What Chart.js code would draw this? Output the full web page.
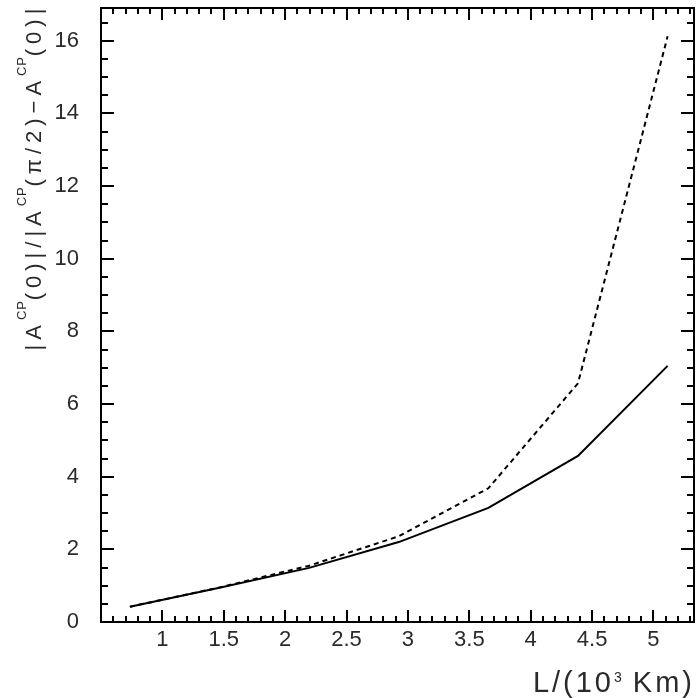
<!DOCTYPE html>
<html><head><meta charset="utf-8">
<script src="https://cdn.jsdelivr.net/npm/chart.js@4.4.1/dist/chart.umd.min.js"></script>
<style>html,body{margin:0;padding:0;background:#fff;}#wrap{width:696px;height:698px;}</style>
</head><body><div id="wrap"><canvas id="c" width="696" height="698"></canvas></div>
<script>
// ---- data ----
const distance = [0.735, 1.465, 2.195, 2.925, 3.655, 4.385, 5.115];      // L / (10^3 km)
const ratioSolid = [0.42, 0.94, 1.49, 2.20, 3.14, 4.57, 7.05];
const ratioDashed = [0.42, 0.95, 1.55, 2.36, 3.68, 6.57, 16.12];
const xTickLabels = [1, 1.5, 2, 2.5, 3, 3.5, 4, 4.5, 5];
const yTickLabels = [0, 2, 4, 6, 8, 10, 12, 14, 16];
const xTitleParts = [["L/(10", 0], ["3", 1], [" Km)", 0]];
const yTitleParts = [["|A", 0], ["CP", 1], ["(0)|/|A", 0], ["CP", 1], ["(\u03C0/2)\u2212A", 0], ["CP", 1], ["(0)|", 0]];

const FONT = "'Liberation Sans', Arial, Helvetica, sans-serif";
const TXT = '#2a2a2a';

function partWidths(ctx, parts, size, supSize, spacing, supSpacing) {
  return parts.map(([t, sup]) => {
    ctx.font = (sup ? supSize : size) + 'px ' + FONT;
    ctx.letterSpacing = (sup ? supSpacing : spacing) + 'px';
    return ctx.measureText(t).width;
  });
}

const framePlugin = {
  id: 'frameTicks',
  afterDatasetsDraw(chart) {
    const ctx = chart.ctx, a = chart.chartArea;
    const xs = chart.scales.x, ys = chart.scales.y;
    ctx.save();
    ctx.strokeStyle = '#000';
    ctx.lineWidth = 2;
    ctx.lineCap = 'butt';
    ctx.beginPath();
    for (let i = 5; i * 0.1 <= xs.max + 1e-9; i++) {
      const v = i / 10;
      const px = Math.round(xs.getPixelForValue(v));
      if (px <= a.left + 1 || px >= a.right - 1) continue;
      const len = (i % 5 === 0) ? 12 : 6;
      ctx.moveTo(px, a.bottom); ctx.lineTo(px, a.bottom - len);
      ctx.moveTo(px, a.top); ctx.lineTo(px, a.top + len);
    }
    for (let i = 0; i * 0.5 <= ys.max + 1e-9; i++) {
      const v = i * 0.5;
      const py = Math.round(ys.getPixelForValue(v));
      if (py <= a.top + 1 || py >= a.bottom - 1) continue;
      const len = (i % 4 === 0) ? 13 : 7;
      ctx.moveTo(a.left, py); ctx.lineTo(a.left + len, py);
      ctx.moveTo(a.right, py); ctx.lineTo(a.right - len, py);
    }
    ctx.stroke();
    ctx.strokeRect(a.left, a.top, a.right - a.left, a.bottom - a.top);
    ctx.restore();
  },
  afterDraw(chart) {
    const ctx = chart.ctx, a = chart.chartArea;
    ctx.save();
    ctx.fillStyle = TXT;
    ctx.textBaseline = 'alphabetic';
    ctx.textAlign = 'left';
    {
      const size = 29, supSize = 14, raise = 10, sp = 3, ssp = 0;
      const w = partWidths(ctx, xTitleParts, size, supSize, sp, ssp);
      const total = w.reduce((s, v) => s + v, 0);
      let x = a.right + 1 - total;
      const y = 692;
      xTitleParts.forEach(([t, sup], k) => {
        ctx.font = (sup ? supSize : size) + 'px ' + FONT;
        ctx.letterSpacing = (sup ? ssp : sp) + 'px';
        ctx.fillText(t, x, sup ? y - raise : y);
        x += w[k];
      });
    }
    {
      const size = 22, supSize = 13, raise = 15, sp = 5, ssp = 0.8;
      const w = partWidths(ctx, yTitleParts, size, supSize, sp, ssp);
      const total = w.reduce((s, v) => s + v, 0);
      ctx.translate(41, 177);
      ctx.rotate(-Math.PI / 2);
      let x = -total / 2;
      yTitleParts.forEach(([t, sup], k) => {
        ctx.font = (sup ? supSize : size) + 'px ' + FONT;
        ctx.letterSpacing = (sup ? ssp : sp) + 'px';
        ctx.fillText(t, x, sup ? -raise : 0);
        x += w[k];
      });
    }
    ctx.restore();
  }
};

new Chart(document.getElementById('c'), {
  type: 'line',
  data: {
    datasets: [
      {
        label: 'solid',
        data: distance.map((x, i) => ({ x, y: ratioSolid[i] })),
        borderColor: '#000', borderWidth: 2, pointRadius: 0, tension: 0, fill: false
      },
      {
        label: 'dashed',
        data: distance.map((x, i) => ({ x, y: ratioDashed[i] })),
        borderColor: '#000', borderWidth: 2, borderDash: [5, 4], pointRadius: 0, tension: 0, fill: false
      }
    ]
  },
  options: {
    responsive: false,
    devicePixelRatio: 1,
    animation: false,
    layout: { padding: { left: 0, right: 2, top: 8, bottom: 0 } },
    plugins: { legend: { display: false }, tooltip: { enabled: false } },
    scales: {
      x: {
        type: 'linear', min: 0.5, max: 5.33,
        afterFit: s => { s.height = 76; s.paddingLeft = 0; s.paddingRight = 0; },
        afterBuildTicks: s => { s.ticks = xTickLabels.map(v => ({ value: v })); },
        grid: { display: false, drawTicks: false },
        border: { display: false },
        ticks: { font: { size: 22, family: FONT }, color: TXT, padding: 5, maxRotation: 0, autoSkip: false,
                 callback: v => String(v) }
      },
      y: {
        type: 'linear', min: 0, max: 16.9,
        afterFit: s => { s.width = 101; s.paddingTop = 0; s.paddingBottom = 0; },
        afterBuildTicks: s => { s.ticks = yTickLabels.map(v => ({ value: v })); },
        grid: { display: false, drawTicks: false },
        border: { display: false },
        ticks: { font: { size: 22, family: FONT }, color: TXT, padding: 22, autoSkip: false,
                 callback: v => String(v) }
      }
    }
  },
  plugins: [framePlugin]
});
</script>
</body></html>
